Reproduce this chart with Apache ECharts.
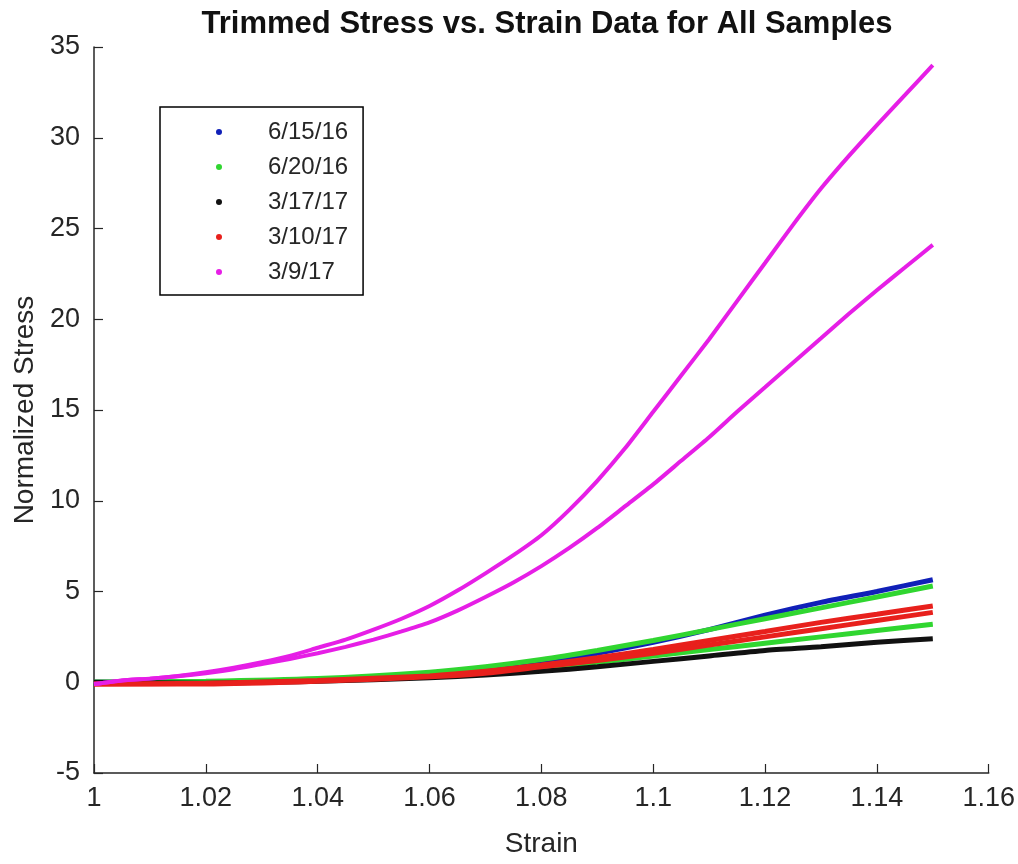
<!DOCTYPE html>
<html>
<head>
<meta charset="utf-8">
<script src="https://cdn.jsdelivr.net/npm/echarts@6/dist/echarts.min.js"></script>
<style>
html,body{margin:0;padding:0;background:#fff;}
#chart{width:1018px;height:864px;}
</style>
</head>
<body>
<div id="chart"></div>
<script>
// ---- data ----
const legendNames = ['6/15/16', '6/20/16', '3/17/17', '3/10/17', '3/9/17'];
const xTicks = [1, 1.02, 1.04, 1.06, 1.08, 1.1, 1.12, 1.14, 1.16];
const yTicks = [-5, 0, 5, 10, 15, 20, 25, 30, 35];

const strainCoarse = [1.00, 1.02, 1.04, 1.06, 1.07, 1.08, 1.09, 1.10, 1.11, 1.12, 1.13, 1.14, 1.15];
const blue_0615    = [0.00, 0.02, 0.15, 0.45, 0.70, 1.10, 1.60, 2.20, 2.90, 3.70, 4.40, 5.00, 5.65];
const green_0620a  = [0.00, 0.05, 0.20, 0.55, 0.85, 1.25, 1.75, 2.30, 2.90, 3.50, 4.10, 4.70, 5.30];
const green_0620b  = [0.00, 0.00, 0.10, 0.35, 0.55, 0.80, 1.10, 1.45, 1.80, 2.15, 2.50, 2.85, 3.20];
const black_0317   = [0.00, -0.05, 0.05, 0.25, 0.40, 0.60, 0.85, 1.15, 1.45, 1.75, 1.95, 2.20, 2.40];
const red_0310a    = [-0.10, -0.05, 0.10, 0.35, 0.60, 0.95, 1.35, 1.80, 2.30, 2.80, 3.30, 3.75, 4.20];
const red_0310b    = [-0.10, -0.10, 0.05, 0.30, 0.50, 0.85, 1.20, 1.60, 2.05, 2.50, 2.95, 3.40, 3.85];

const strainFine = [1.000, 1.005, 1.010, 1.015, 1.020, 1.025, 1.030, 1.035, 1.040, 1.045, 1.050,
                    1.055, 1.060, 1.065, 1.070, 1.075, 1.080, 1.085, 1.090, 1.095, 1.100,
                    1.105, 1.110, 1.115, 1.120, 1.125, 1.130, 1.135, 1.140, 1.145, 1.150];
const magenta_0309a = [-0.10, 0.10, 0.20, 0.35, 0.55, 0.80, 1.10, 1.45, 1.90, 2.35, 2.90,
                       3.50, 4.20, 5.05, 6.00, 7.00, 8.10, 9.50, 11.10, 12.90, 14.90,
                       16.90, 18.90, 21.00, 23.10, 25.20, 27.20, 29.00, 30.70, 32.35, 34.00];
const magenta_0309b = [-0.10, 0.10, 0.20, 0.33, 0.50, 0.72, 1.00, 1.28, 1.60, 1.95, 2.35,
                       2.80, 3.30, 3.95, 4.70, 5.50, 6.40, 7.40, 8.50, 9.70, 10.90,
                       12.20, 13.50, 14.90, 16.25, 17.60, 18.95, 20.30, 21.60, 22.85, 24.10];

const colors = {
  '6/15/16': '#1020b8',
  '6/20/16': '#30d630',
  '3/17/17': '#111111',
  '3/10/17': '#e8201c',
  '3/9/17':  '#e61ee6'
};

function pairs(xs, ys) { return xs.map((x, i) => [x, ys[i]]); }

function mk(name, xs, ys, w) {
  return {
    name: name,
    type: 'line',
    data: pairs(xs, ys),
    showSymbol: false,
    symbol: 'circle',
    smooth: 0.2,
    lineStyle: { color: colors[name], width: w },
    itemStyle: { color: colors[name] },
    emphasis: { disabled: true },
    z: 2
  };
}

const series = [
  mk('6/15/16', strainCoarse, blue_0615, 5),
  mk('6/20/16', strainCoarse, green_0620a, 5),
  mk('6/20/16', strainCoarse, green_0620b, 5),
  mk('3/17/17', strainCoarse, black_0317, 5),
  mk('3/10/17', strainCoarse, red_0310a, 5),
  mk('3/10/17', strainCoarse, red_0310b, 5),
  mk('3/9/17', strainFine, magenta_0309a, 4),
  mk('3/9/17', strainFine, magenta_0309b, 4)
];

const axisColor = '#262626';
const fontFam = '"Liberation Sans", Arial, Helvetica, sans-serif';

const chart = echarts.init(document.getElementById('chart'), null, { renderer: 'canvas' });
chart.setOption({
  animation: false,
  backgroundColor: '#ffffff',
  title: {
    text: 'Trimmed Stress vs. Strain Data for All Samples',
    left: 542,
    textAlign: 'center',
    top: 4,
    textStyle: { fontFamily: fontFam, fontSize: 31, fontWeight: 'bold', color: '#111' }
  },
  legend: {
    data: legendNames,
    orient: 'vertical',
    left: 160,
    top: 107,
    icon: 'circle',
    itemWidth: 6,
    itemHeight: 6,
    itemGap: 11,
    padding: [13, 15, 11, 56],
    backgroundColor: '#ffffff',
    borderColor: '#000000',
    borderWidth: 1.5,
    borderRadius: 0,
    selectedMode: false,
    textStyle: { fontFamily: fontFam, fontSize: 24, color: axisColor, padding: [0, 0, 0, 41], lineHeight: 24 }
  },
  grid: { left: 94, right: 27, top: 47, bottom: 91, containLabel: false },
  xAxis: {
    type: 'value',
    min: xTicks[0],
    max: xTicks[xTicks.length - 1],
    interval: 0.02,
    name: 'Strain',
    nameLocation: 'middle',
    nameGap: 57,
    nameTextStyle: { fontFamily: fontFam, fontSize: 28, color: axisColor },
    axisLine: { show: true, onZero: false, lineStyle: { color: axisColor, width: 1.5 } },
    axisTick: { show: true, inside: true, length: 9, lineStyle: { color: axisColor, width: 1.2 } },
    axisLabel: {
      fontFamily: fontFam, fontSize: 27, color: axisColor, margin: 12,
      formatter: v => String(parseFloat(v.toFixed(2)))
    },
    splitLine: { show: false }
  },
  yAxis: {
    type: 'value',
    min: yTicks[0],
    max: yTicks[yTicks.length - 1],
    interval: 5,
    name: 'Normalized Stress',
    nameLocation: 'middle',
    nameGap: 55,
    nameTextStyle: { fontFamily: fontFam, fontSize: 28, color: axisColor },
    axisLine: { show: true, onZero: false, lineStyle: { color: axisColor, width: 1.5 } },
    axisTick: { show: true, inside: true, length: 9, lineStyle: { color: axisColor, width: 1.2 } },
    axisLabel: { fontFamily: fontFam, fontSize: 27, color: axisColor, margin: 14 },
    splitLine: { show: false }
  },
  series: series
});
</script>
</body>
</html>
